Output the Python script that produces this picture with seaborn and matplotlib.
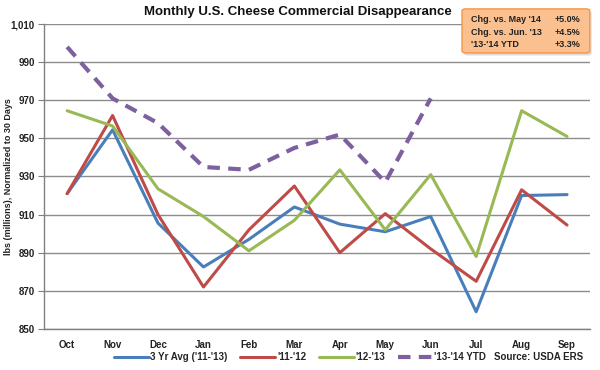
import numpy as np
import pandas as pd
import matplotlib
matplotlib.use('Agg')
import matplotlib.pyplot as plt
from matplotlib.patches import FancyBboxPatch
from matplotlib.lines import Line2D
import seaborn as sns

months = ['Oct', 'Nov', 'Dec', 'Jan', 'Feb', 'Mar', 'Apr', 'May', 'Jun', 'Jul', 'Aug', 'Sep']
avg_3yr = [921, 954.5, 905.5, 882.5, 897, 914, 905, 901, 909, 859, 920, 920.5]
y_11_12 = [921, 962, 910, 872, 902, 925, 890, 910.5, 892, 875, 923, 904.5]
y_12_13 = [964.5, 956.5, 923.5, 909, 891, 907, 933.5, 902, 931, 888, 964.5, 951]
y_13_14 = [998, 971, 958, 935, 933.5, 945, 952, 927, 971]

labels = ["3 Yr Avg ('11-'13)", "'11-'12", "'12-'13", "'13-'14 YTD"]
colors = ['#4A7EBB', '#BE4B48', '#98B954', '#7D60A0']

box_rows = ["Chg. vs. May '14", "Chg. vs. Jun. '13", "'13-'14 YTD"]
box_vals = ['+5.0%', '+4.5%', '+3.3%']

sns.set_style('white')
plt.rcParams['font.family'] = ['Liberation Sans', 'DejaVu Sans']

fig, ax = plt.subplots(figsize=(6, 3.7), dpi=100)
fig.subplots_adjust(left=0.074, right=0.983, top=0.935, bottom=0.111)

# one series at a time so the dashed one can be styled separately
sns.lineplot(x=months, y=avg_3yr, ax=ax, color=colors[0], lw=2.2, sort=False)
sns.lineplot(x=months, y=y_11_12, ax=ax, color=colors[1], lw=2.2, sort=False)
sns.lineplot(x=months, y=y_12_13, ax=ax, color=colors[2], lw=2.2, sort=False)
sns.lineplot(x=months[:len(y_13_14)], y=y_13_14, ax=ax, color=colors[3], lw=3,
             linestyle=(0, (3, 2)), sort=False)

ax.set_ylim(850, 1010)
ax.set_yticks(np.arange(850, 1011, 20))
ax.set_yticklabels([f'{v:,}' for v in range(850, 1011, 20)], fontsize=7, fontweight='bold', color='#222222')
ax.yaxis.grid(True, color='#8C8C8C', lw=1)
ax.set_axisbelow(True)
ax.set_xlim(-0.5, len(months) - 0.5)
ax.set_xticks(range(len(months)))
ax.set_xticklabels(months, fontsize=7, fontweight='bold', color='#222222')
ax.set_xticks(np.arange(-0.5, len(months)), minor=True)
ax.tick_params(axis='x', which='major', length=0, pad=8)
ax.tick_params(axis='x', which='minor', length=4, color='#808080', direction='out')
ax.tick_params(axis='y', length=4, color='#808080', direction='out', pad=3)
ax.tick_params(axis='both', bottom=True, left=True)

for s in ['top', 'right']:
    ax.spines[s].set_visible(False)
for s in ['left', 'bottom']:
    ax.spines[s].set_color('#808080')
    ax.spines[s].set_linewidth(1)

ax.set_ylabel('lbs (millions), Normalized to 30 Days', fontsize=6.5, fontweight='bold', color='#222222')
ax.yaxis.set_label_coords(-0.058, 0.5)
fig.text(0.497, 0.967, 'Monthly U.S. Cheese Commercial Disappearance', fontsize=9.5, fontweight='bold',
         color='#111111', ha='center', va='center')

handles = [Line2D([], [], color=colors[0], lw=2.2),
           Line2D([], [], color=colors[1], lw=2.2),
           Line2D([], [], color=colors[2], lw=2.2),
           Line2D([], [], color=colors[3], lw=3, linestyle=(0, (3, 2)))]
leg = fig.legend(handles, labels, loc='center left', bbox_to_anchor=(0.19, 0.035), ncol=4,
                 frameon=False, handlelength=3.6, columnspacing=1.3, handletextpad=0.15,
                 borderaxespad=0, borderpad=0, prop={'weight': 'bold', 'size': 7})
fig.text(0.972, 0.035, 'Source: USDA ERS', fontsize=7, fontweight='bold', ha='right', va='center', color='#222222')

# annotation box in the top right corner, with a soft shadow
shadow = FancyBboxPatch((0.773, 0.850), 0.213, 0.119, boxstyle='round,pad=0,rounding_size=0.006',
                        transform=fig.transFigure, facecolor='#BBBBBB', edgecolor='none', alpha=0.5,
                        zorder=4)
fig.patches.append(shadow)
box = FancyBboxPatch((0.770, 0.857), 0.213, 0.119, boxstyle='round,pad=0,rounding_size=0.006',
                     transform=fig.transFigure, facecolor='#FAC08F', edgecolor='#F79646', lw=1,
                     zorder=5)
fig.patches.append(box)
# light-to-dark gradient inside the box
gax = fig.add_axes([0.771, 0.859, 0.211, 0.115], zorder=5)
grad = np.linspace(0, 1, 50).reshape(-1, 1)
gax.imshow(grad, aspect='auto', cmap=matplotlib.colors.LinearSegmentedColormap.from_list(
    'org', ['#FDE0C5', '#F9B47A']), extent=(0, 1, 0, 1))
gax.axis('off')
for i, (r, v) in enumerate(zip(box_rows, box_vals)):
    yy = 0.946 - i * 0.033
    fig.text(0.785, yy, r, fontsize=6.5, fontweight='bold', va='center', color='#222222', zorder=6)
    fig.text(0.967, yy, v, fontsize=6.5, fontweight='bold', va='center', ha='right', color='#222222', zorder=6)

fig.savefig('out.png', dpi=100)
